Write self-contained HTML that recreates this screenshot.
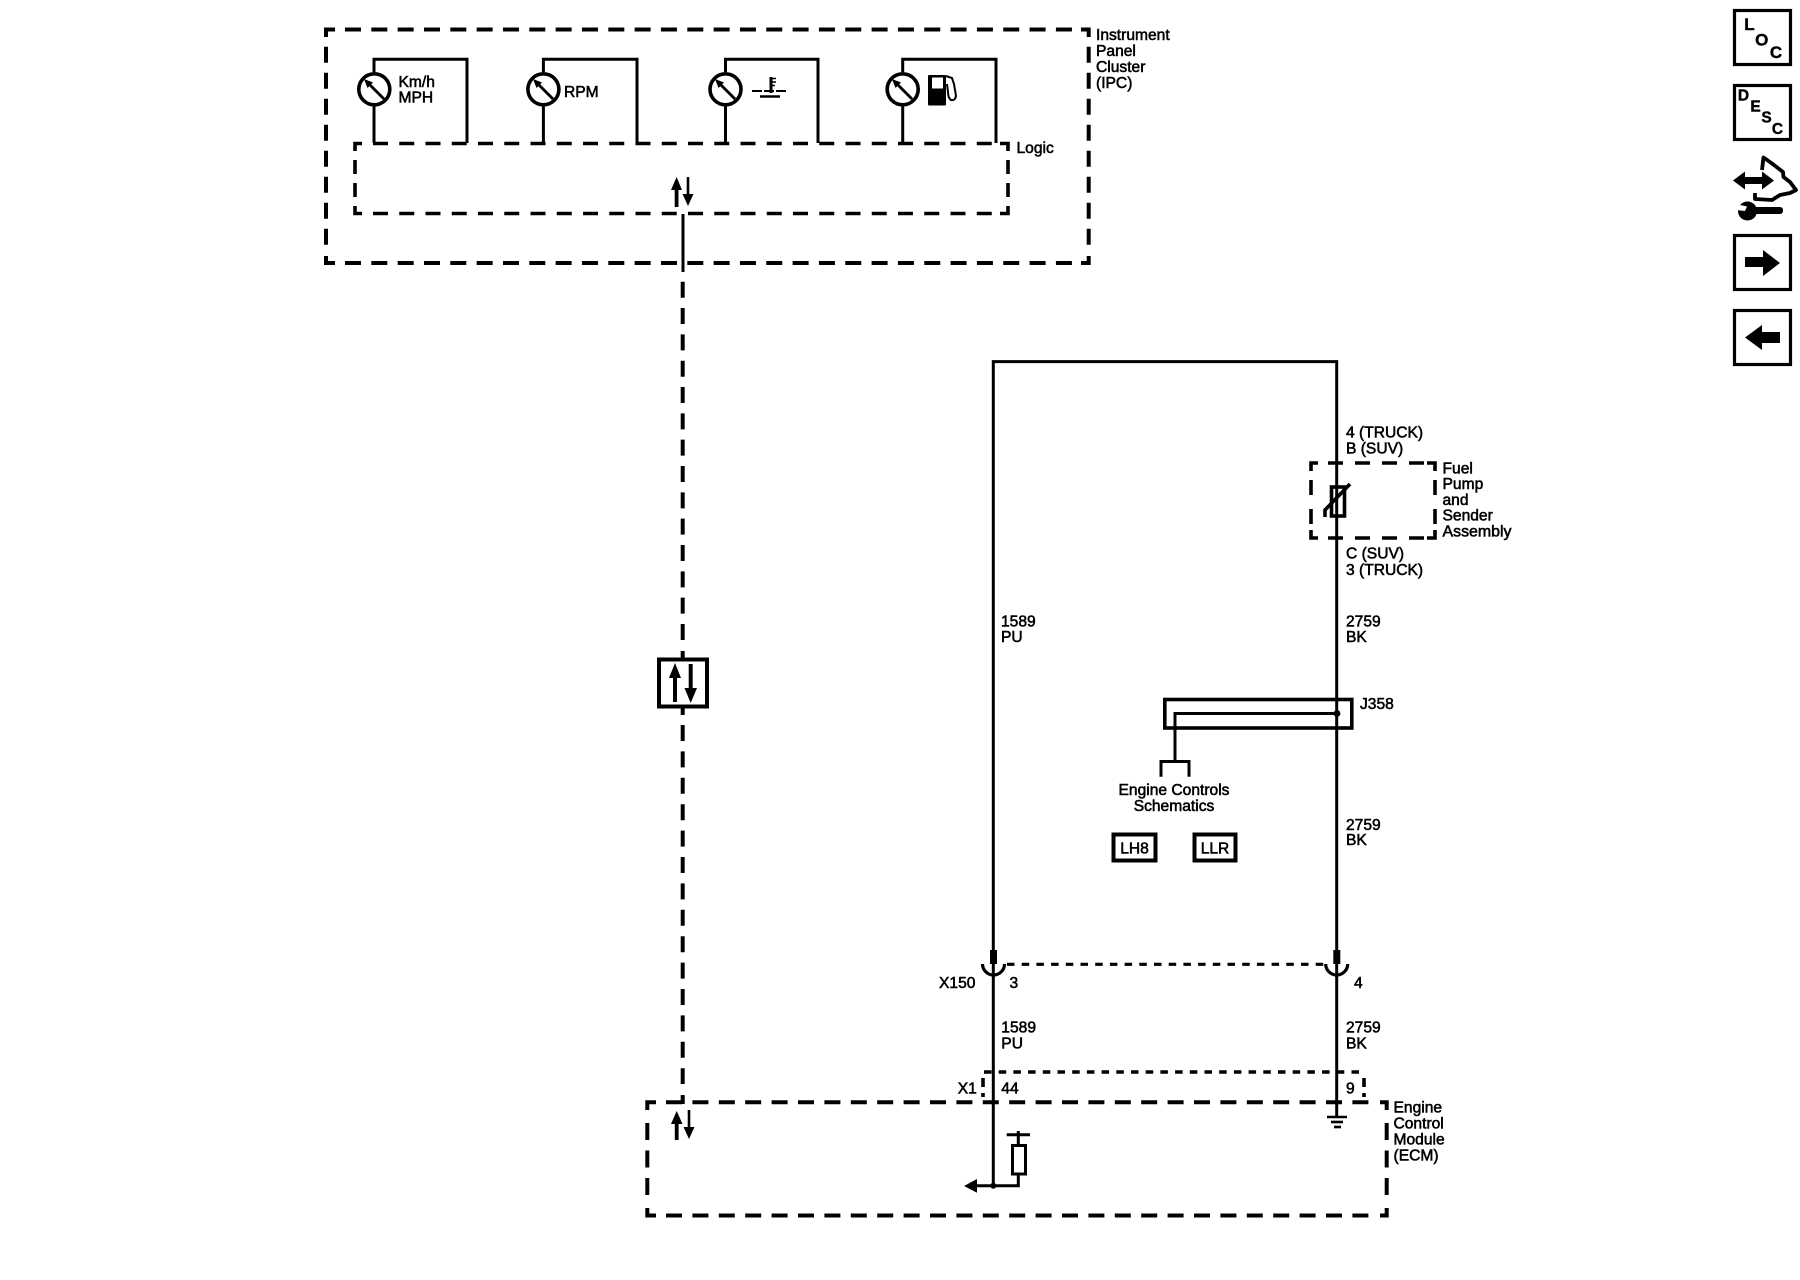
<!DOCTYPE html>
<html>
<head>
<meta charset="utf-8">
<title>Wiring Schematic</title>
<style>
html,body{margin:0;padding:0;background:#fff;width:1800px;height:1280px;overflow:hidden}
svg{display:block}
text{font-family:"Liberation Sans",Arial,sans-serif;font-size:15.6px;fill:#000;stroke:#000;stroke-width:.55px}
.s{fill:none;stroke:#000;stroke-width:3}
.g{fill:none;stroke:#000;stroke-width:3.6}
.d{fill:none;stroke:#000;stroke-width:4}
.l{fill:none;stroke:#000;stroke-width:3.6}
.k{fill:#000;stroke:none}
.b{font-weight:bold;stroke-width:.4px;text-anchor:middle}
</style>
</head>
<body>
<svg width="1800" height="1280" viewBox="0 0 1800 1280" xmlns="http://www.w3.org/2000/svg">
<rect width="1800" height="1280" fill="#fff"/>

<!-- IPC outer box -->
<polyline class="d" points="326,37 326,29.5 335,29.5"/>
<polyline class="d" points="1081,29.5 1088.7,29.5 1088.7,37"/>
<polyline class="d" points="326,256 326,263 335,263"/>
<polyline class="d" points="1081,263 1088.7,263 1088.7,256"/>
<line class="d" x1="345" y1="29.5" x2="1072" y2="29.5" stroke-dasharray="16 10.33"/>
<line class="d" x1="345" y1="263" x2="1072" y2="263" stroke-dasharray="16 10.33"/>
<line class="d" x1="326" y1="46.7" x2="326" y2="246" stroke-dasharray="16 10"/>
<line class="d" x1="1088.7" y1="46.7" x2="1088.7" y2="246" stroke-dasharray="16 10"/>

<!-- Logic box -->
<polyline class="l" points="355,151 355,143.5 362,143.5"/>
<polyline class="l" points="1000,143.5 1008,143.5 1008,151"/>
<polyline class="l" points="355,206 355,213.5 362,213.5"/>
<polyline class="l" points="1000,213.5 1008,213.5 1008,206"/>
<line class="l" x1="373" y1="143.5" x2="992" y2="143.5" stroke-dasharray="15 11.25"/>
<line class="l" x1="373" y1="213.5" x2="992" y2="213.5" stroke-dasharray="15 11.25"/>
<line class="l" x1="355" y1="160" x2="355" y2="198" stroke-dasharray="14 9"/>
<line class="l" x1="1008" y1="160" x2="1008" y2="198" stroke-dasharray="14 9"/>

<!-- Gauges -->
<g>
<polyline class="s" points="374,72 374,59.3 467,59.3 467,143"/>
<line class="s" x1="374" y1="106" x2="374" y2="143"/>
<circle class="g" cx="374.3" cy="89.3" r="15.5"/>
<line x1="384" y1="99" x2="369" y2="84" stroke="#000" stroke-width="2.8"/>
<polygon class="k" points="364,79 373,82.5 367.5,88"/>
</g>
<g>
<polyline class="s" points="543.4,72 543.4,59.3 637,59.3 637,143"/>
<line class="s" x1="543.4" y1="106" x2="543.4" y2="143"/>
<circle class="g" cx="543.4" cy="89.3" r="15.5"/>
<line x1="553" y1="99" x2="538" y2="84" stroke="#000" stroke-width="2.8"/>
<polygon class="k" points="533,79 542,82.5 536.5,88"/>
</g>
<g>
<polyline class="s" points="725.5,72 725.5,59.3 818,59.3 818,143"/>
<line class="s" x1="725.5" y1="106" x2="725.5" y2="143"/>
<circle class="g" cx="725.5" cy="89.3" r="15.5"/>
<line x1="735" y1="99" x2="720" y2="84" stroke="#000" stroke-width="2.8"/>
<polygon class="k" points="715,79 724,82.5 718.5,88"/>
</g>
<g>
<polyline class="s" points="902.7,72 902.7,59.3 996,59.3 996,143"/>
<line class="s" x1="902.7" y1="106" x2="902.7" y2="143"/>
<circle class="g" cx="902.7" cy="89.3" r="15.5"/>
<line x1="912" y1="99" x2="897" y2="84" stroke="#000" stroke-width="2.8"/>
<polygon class="k" points="892,79 901,82.5 895.5,88"/>
</g>

<!-- Temp symbol -->
<line x1="771" y1="77" x2="771" y2="93" stroke="#000" stroke-width="3"/>
<path d="M771 78.5h5M771 82h5M771 85.5h4" stroke="#000" stroke-width="1.5" fill="none"/>
<line x1="752" y1="91" x2="788" y2="91" stroke="#000" stroke-width="2" stroke-dasharray="10 2"/>
<line x1="760" y1="96.5" x2="780" y2="96.5" stroke="#000" stroke-width="2.4"/>

<!-- Fuel icon -->
<rect class="k" x="928" y="75" width="18" height="30.5" rx="1"/>
<rect x="932" y="77.5" width="11" height="11" fill="#fff"/>
<path d="M946,76 L952,78 L954,84 L956,96 Q955,101 951,100 Q948,98 948,92 L947,84" fill="none" stroke="#000" stroke-width="2"/>

<!-- IPC arrows -->
<line x1="676.6" y1="184" x2="676.6" y2="207" stroke="#000" stroke-width="3.8"/>
<polygon class="k" points="676.6,177 671,190 682,190"/>
<line x1="688" y1="177" x2="688" y2="198" stroke="#000" stroke-width="2.6"/>
<polygon class="k" points="688,206 682.5,194 693.5,194"/>
<line class="s" x1="683" y1="214" x2="683" y2="272"/>

<!-- Vertical bus -->
<line class="d" x1="682.7" y1="281.7" x2="682.7" y2="646" stroke-dasharray="16 10.33"/>
<line class="d" x1="682.7" y1="651" x2="682.7" y2="658"/>
<line class="d" x1="682.7" y1="708" x2="682.7" y2="715"/>
<line class="d" x1="682.7" y1="725" x2="682.7" y2="1084" stroke-dasharray="16 10.4"/>
<line class="d" x1="682.7" y1="1095" x2="682.7" y2="1104"/>
<rect x="659" y="659.5" width="48" height="47" fill="#fff" stroke="#000" stroke-width="4"/>
<line x1="675" y1="675" x2="675" y2="702" stroke="#000" stroke-width="4"/>
<polygon class="k" points="675,663 669,678 681,678"/>
<line x1="690.7" y1="664" x2="690.7" y2="692" stroke="#000" stroke-width="4"/>
<polygon class="k" points="690.7,703 684.5,688 697,688"/>

<!-- Main wires -->
<polyline class="s" points="993.3,950 993.3,361.6 1336.7,361.6 1336.7,950"/>
<line class="s" x1="993.3" y1="964" x2="993.3" y2="1186"/>
<line class="s" x1="1336.7" y1="964" x2="1336.7" y2="1117"/>

<!-- Fuel pump box -->
<polyline class="l" points="1311,471 1311,463 1318,463"/>
<polyline class="l" points="1427,463 1435,463 1435,471"/>
<polyline class="l" points="1311,530 1311,538 1318,538"/>
<polyline class="l" points="1427,538 1435,538 1435,530"/>
<line class="l" x1="1328" y1="463" x2="1424" y2="463" stroke-dasharray="15 12"/>
<line class="l" x1="1328" y1="538" x2="1424" y2="538" stroke-dasharray="15 12"/>
<line class="l" x1="1311" y1="480" x2="1311" y2="525" stroke-dasharray="15 14"/>
<line class="l" x1="1435" y1="480" x2="1435" y2="525" stroke-dasharray="15 14"/>
<rect x="1331.5" y="487" width="13" height="29" fill="none" stroke="#000" stroke-width="3.6"/>
<polyline points="1325,517 1325,510 1350,484" fill="none" stroke="#000" stroke-width="3.6"/>

<!-- J358 -->
<rect x="1164.8" y="699.5" width="187" height="28.5" fill="none" stroke="#000" stroke-width="3.6"/>
<polyline class="s" points="1337,713.5 1175,713.5 1175,761"/>
<polyline class="s" points="1161,776.7 1161,761.5 1189,761.5 1189,776.7"/>
<circle class="k" cx="1337" cy="713.5" r="3.4"/>

<rect x="1113.5" y="834.5" width="42" height="26" fill="none" stroke="#000" stroke-width="4"/>
<rect x="1194.5" y="834.5" width="41" height="26" fill="none" stroke="#000" stroke-width="4"/>

<!-- X150 connector -->
<rect class="k" x="990" y="950" width="7" height="14"/>
<rect class="k" x="1333.3" y="950" width="7" height="14"/>
<path d="M982.5,964 A11,11 0 0 0 1004.5,964" fill="none" stroke="#000" stroke-width="3.2"/>
<path d="M1325.7,964 A11,11 0 0 0 1347.7,964" fill="none" stroke="#000" stroke-width="3.2"/>
<line x1="1007" y1="964.3" x2="1326" y2="964.3" stroke="#000" stroke-width="3.2" stroke-dasharray="7.5 7.2"/>

<!-- X1 dotted -->
<line x1="984" y1="1072" x2="1363" y2="1072" stroke="#000" stroke-width="3.6" stroke-dasharray="7.5 7.2"/>
<line x1="983" y1="1078" x2="983" y2="1087" stroke="#000" stroke-width="3.6"/>
<line x1="983" y1="1093" x2="983" y2="1097" stroke="#000" stroke-width="3.6"/>
<line x1="1364" y1="1078" x2="1364" y2="1087" stroke="#000" stroke-width="3.6"/>
<line x1="1364" y1="1093" x2="1364" y2="1097" stroke="#000" stroke-width="3.6"/>

<!-- ECM box -->
<polyline class="d" points="647.3,1110 647.3,1102.3 656,1102.3"/>
<polyline class="d" points="1380,1102.3 1386.7,1102.3 1386.7,1110"/>
<polyline class="d" points="647.3,1208 647.3,1215.5 656,1215.5"/>
<polyline class="d" points="1380,1215.5 1386.7,1215.5 1386.7,1208"/>
<line class="d" x1="666" y1="1102.3" x2="1369" y2="1102.3" stroke-dasharray="16 10.4"/>
<line class="d" x1="666" y1="1215.5" x2="1369" y2="1215.5" stroke-dasharray="16 10.4"/>
<line class="d" x1="647.3" y1="1123" x2="647.3" y2="1197" stroke-dasharray="17 10.5"/>
<line class="d" x1="1386.7" y1="1123" x2="1386.7" y2="1197" stroke-dasharray="17 10.5"/>

<!-- ECM arrows -->
<line x1="676.7" y1="1118" x2="676.7" y2="1140" stroke="#000" stroke-width="3.8"/>
<polygon class="k" points="676.7,1111 671,1124 682.5,1124"/>
<line x1="689" y1="1110" x2="689" y2="1130" stroke="#000" stroke-width="2.6"/>
<polygon class="k" points="689,1139 683.5,1127 694.5,1127"/>

<!-- Ground -->
<line x1="1327" y1="1117" x2="1347" y2="1117" stroke="#000" stroke-width="2.6"/>
<line x1="1331" y1="1122" x2="1343" y2="1122" stroke="#000" stroke-width="2.6"/>
<line x1="1334" y1="1127" x2="1341" y2="1127" stroke="#000" stroke-width="2.6"/>

<!-- Pull-up resistor -->
<line x1="1006.7" y1="1134.7" x2="1030" y2="1134.7" stroke="#000" stroke-width="3"/>
<line class="s" x1="1018.3" y1="1131" x2="1018.3" y2="1145"/>
<rect x="1012.5" y="1145.5" width="13" height="28.5" fill="none" stroke="#000" stroke-width="3"/>
<polyline class="s" points="1018.3,1174 1018.3,1185.7 975,1185.7"/>
<polygon class="k" points="964,1186 977,1179 977,1192.7"/>
<circle class="k" cx="993.3" cy="1185.7" r="3"/>

<!-- Labels -->
<text x="398.5" y="87">Km/h</text>
<text x="398.5" y="102.7">MPH</text>
<text x="564" y="97">RPM</text>
<text x="1096" y="40">Instrument</text>
<text x="1096" y="56">Panel</text>
<text x="1096" y="72">Cluster</text>
<text x="1096" y="88">(IPC)</text>
<text x="1016.5" y="153">Logic</text>

<text x="1346" y="437.3">4 (TRUCK)</text>
<text x="1346" y="453.3">B (SUV)</text>
<text x="1346" y="558.3">C (SUV)</text>
<text x="1346" y="575">3 (TRUCK)</text>
<text x="1442.5" y="473.3">Fuel</text>
<text x="1442.5" y="489">Pump</text>
<text x="1442.5" y="505">and</text>
<text x="1442.5" y="520.7">Sender</text>
<text x="1442.5" y="536.7" textLength="69" lengthAdjust="spacingAndGlyphs">Assembly</text>

<text x="1001" y="626.5">1589</text>
<text x="1001" y="642">PU</text>
<text x="1346" y="626.5">2759</text>
<text x="1346" y="642">BK</text>
<text x="1360" y="709">J358</text>
<text x="1174" y="795" text-anchor="middle">Engine Controls</text>
<text x="1174" y="811" text-anchor="middle">Schematics</text>
<text x="1134.5" y="853.3" text-anchor="middle">LH8</text>
<text x="1215" y="853.3" text-anchor="middle">LLR</text>
<text x="1346" y="830">2759</text>
<text x="1346" y="845">BK</text>

<text x="939" y="987.8">X150</text>
<text x="1009.5" y="987.8">3</text>
<text x="1354" y="987.8">4</text>
<text x="1001.3" y="1032.3">1589</text>
<text x="1001.3" y="1048.3">PU</text>
<text x="1346" y="1032.3">2759</text>
<text x="1346" y="1048.3">BK</text>
<text x="957.7" y="1093.3">X1</text>
<text x="1001.3" y="1093.3">44</text>
<text x="1346" y="1093.3">9</text>
<text x="1393.5" y="1112.7">Engine</text>
<text x="1393.5" y="1128.7">Control</text>
<text x="1393.5" y="1144.5">Module</text>
<text x="1393.5" y="1160.7">(ECM)</text>

<!-- Right side icons -->
<rect x="1734.5" y="10.5" width="56" height="54" fill="none" stroke="#000" stroke-width="3.2"/>
<text class="b" x="1749.5" y="30" style="font-size:17px">L</text>
<text class="b" x="1761.7" y="45.5" style="font-size:17px">O</text>
<text class="b" x="1776" y="58" style="font-size:17px">C</text>
<rect x="1734.5" y="85.5" width="56" height="54" fill="none" stroke="#000" stroke-width="3.2"/>
<text class="b" x="1743.5" y="100.7" style="font-size:15.5px">D</text>
<text class="b" x="1755.5" y="111.7" style="font-size:15.5px">E</text>
<text class="b" x="1766.5" y="122.7" style="font-size:15.5px">S</text>
<text class="b" x="1777.5" y="134" style="font-size:15.5px">C</text>

<!-- Service icon -->
<polygon class="k" points="1733,180.5 1745,171.5 1745,177 1762,177 1762,171.5 1774,180.5 1762,189.5 1762,184 1745,184 1745,189.5"/>
<polyline points="1762,170 1763.5,157.5 1772,163.5 1783,172 1783.5,177 1790,182 1796,190 1790,193 1780,195 1772,200 1755,199 1755,193" fill="none" stroke="#000" stroke-width="3.8" stroke-linejoin="round"/>
<circle class="k" cx="1747.5" cy="211" r="9.5"/>
<rect class="k" x="1750" y="207" width="33" height="7" rx="3"/>
<polygon points="1736,204 1747,206.5 1745,211 1736,210" fill="#fff"/>

<rect x="1734.5" y="235.5" width="56" height="54" fill="none" stroke="#000" stroke-width="3.2"/>
<polygon class="k" points="1745,257 1763,257 1763,250 1780,263 1763,276 1763,267 1745,267"/>
<rect x="1734.5" y="310.5" width="56" height="54" fill="none" stroke="#000" stroke-width="3.2"/>
<polygon class="k" points="1780,332 1762,332 1762,325 1745,337.5 1762,350 1762,343 1780,343"/>
</svg>
</body>
</html>
